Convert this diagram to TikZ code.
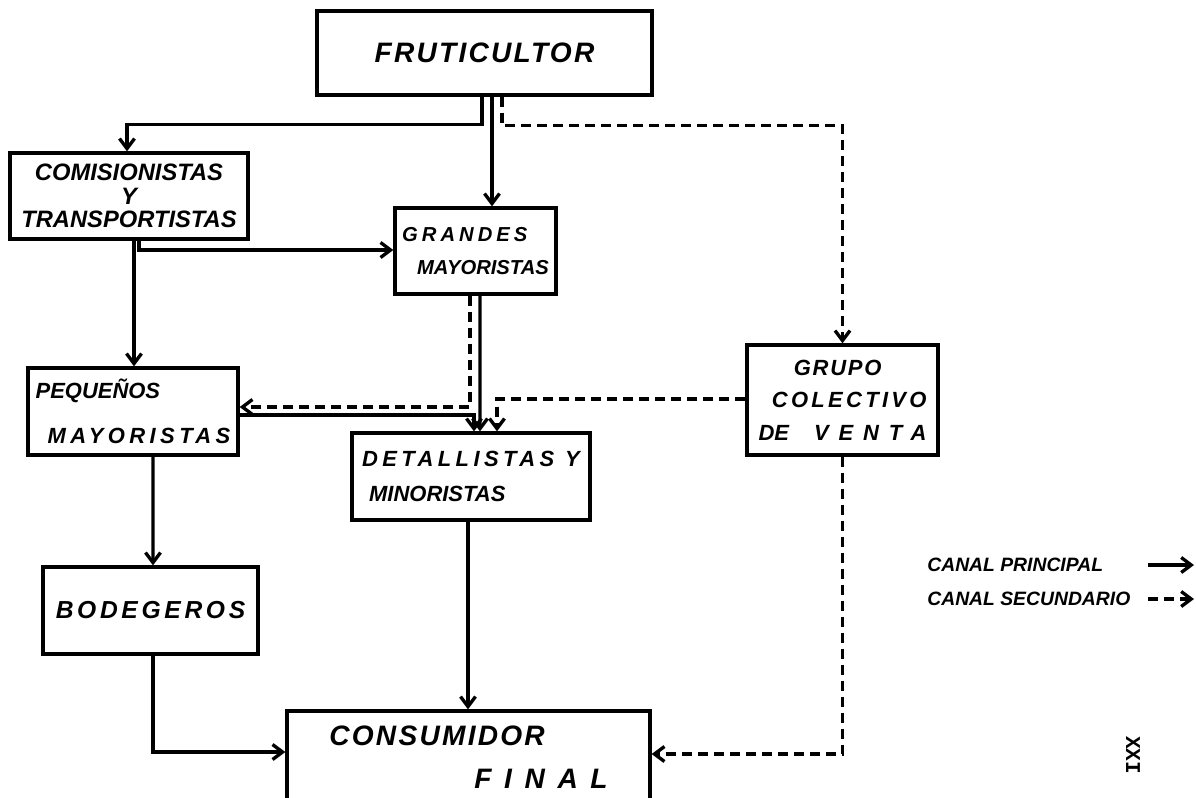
\documentclass[tikz,border=0pt]{standalone}
\usepackage{fontspec}
\setmainfont{Liberation Sans}
\setmonofont{Liberation Mono}
\newfontfamily\spaced{Liberation Sans}[LetterSpace=8]
\newfontfamily\spacedm{Liberation Sans}[LetterSpace=15]
\newfontfamily\spacedb{Liberation Sans}[LetterSpace=20]
\newfontfamily\wider{Liberation Sans}[LetterSpace=45]
\usetikzlibrary{positioning,arrows.meta,calc}

\begin{document}
\begin{tikzpicture}[
  x=0.2mm, y=-0.2mm,
  font=\fontsize{12.5}{14}\selectfont\bfseries\itshape,
  >={Straight Barb[length=2mm,width=3mm]},
  box/.style={draw, line width=1.9pt, inner sep=0pt},
  big/.style={font=\fontsize{16}{18}\selectfont\bfseries\itshape},
  main/.style={->, line width=1.9pt},
  sec/.style={main, dash pattern=on 2mm off 1.2mm},
  lbl/.style={font=\fontsize{11}{12}\selectfont\bfseries\itshape, anchor=west, inner sep=0pt},
]
\useasboundingbox (0,0) rectangle (1196,797);

% ---- boxes ----
\node[box, big, minimum width=67mm, minimum height=16.8mm]
      (fruti) at (484.5,53) {\spaced FRUTICULTOR\hspace{2mm}};
\node[box, minimum width=47.6mm, minimum height=17.2mm, align=center,
      font=\fontsize{13.5}{14}\selectfont\bfseries\itshape]
      (comis) at (129,196) {COMISIONISTAS\\[-0.2mm]Y\\[-0.2mm]TRANSPORTISTAS};
\node[box, minimum width=32.2mm, minimum height=17.2mm, align=left,
      font=\fontsize{11.5}{13}\selectfont\bfseries\itshape]
      (grandes) at (475.5,251) {{\spacedb GRANDES}\\[2.2mm]\hspace{3mm}MAYORISTAS};
\node[box, minimum width=42mm, minimum height=17.4mm, align=left]
      (pequenos) at (133,411.5) {PEQUEÑOS\\[4mm]\hspace{2.4mm}{\spacedb MAYORISTAS}};
\node[box, minimum width=47.6mm, minimum height=17.4mm, align=left]
      (detall) at (471,476.5) {{\spacedb DETALLISTAS}\hspace{2.2mm}Y\\[2mm]\hspace{1.4mm}MINORISTAS};
\node[box, minimum width=38.2mm, minimum height=22mm, align=right]
      (grupo) at (842.5,400) {{\spaced GRUPO}\hspace*{9mm}\\[1.6mm]{\spacedm COLECTIVO}\\[1.6mm]DE\hspace{5mm}{\wider VENTA}};
\node[box, minimum width=43mm, minimum height=17.4mm, font=\fontsize{14}{16}\selectfont\bfseries\itshape]
      (bodeg) at (150.5,610.5) {\spacedm BODEGEROS};
\node[box, big, minimum width=72.6mm, minimum height=18.4mm, align=left]
      (consum) at (468.5,757) {{\spaced CONSUMIDOR}\\[2.4mm]\hspace{29mm}{\wider FINAL}};

% ---- canal principal ----
\draw[main] ($(fruti.south)+(-2.5,0)$) -- ++(0,28) -| ($(comis.north)+(-2,0)$);
\draw[main] ($(fruti.south)+(7.5,0)$) -- ($(grandes.north)+(16.5,0)$);
\draw[main] ($(comis.south)+(5,0)$) -- ($(pequenos.north)+(1,0)$);
\draw[main] ($(comis.south)+(10,0)$) |- ($(grandes.west)+(0,-1)$);
\draw[main] ($(grandes.south)+(4.5,0)$) -- ($(detall.north)+(9,0)$);
\draw[main] ($(pequenos.east)+(0,3.5)$) -| ($(detall.north)+(3,0)$);
\draw[main] ($(pequenos.south)+(20,0)$) -- ($(bodeg.north)+(2.5,0)$);
\draw[main] ($(bodeg.south)+(2.5,0)$) |- ($(consum.west)+(0,-5)$);
\draw[main] ($(detall.south)+(-3,0)$) -- ($(consum.north)+(-0.5,0)$);

% ---- canal secundario ----
\draw[sec] ($(fruti.south)+(17.5,0)$) -- ++(0,29) -| (grupo.north);
\draw[sec] ($(grandes.south)+(-5.5,0)$) |- ($(pequenos.east)+(0,-4.5)$);
\draw[sec] ($(grupo.west)+(0,-1)$) -| ($(detall.north)+(26,0)$);
\draw[sec] (grupo.south) |- ($(consum.east)+(0,-3)$);

% ---- leyenda ----
\node[lbl] (lprin) at (927,565) {CANAL PRINCIPAL};
\node[lbl] (lsec) at (927,599) {CANAL SECUNDARIO};
\coordinate (eprin) at (1194,565);
\coordinate (esec) at (1194,599);
\draw[main] (lprin.east -| 1148,0) -- (eprin);
\draw[sec] (lsec.east -| 1148,0) -- (esec);

\node[rotate=-90, font=\fontsize{12}{12}\selectfont\ttfamily\bfseries] (pag) at (1133,755) {XXI};
\end{tikzpicture}
\end{document}
